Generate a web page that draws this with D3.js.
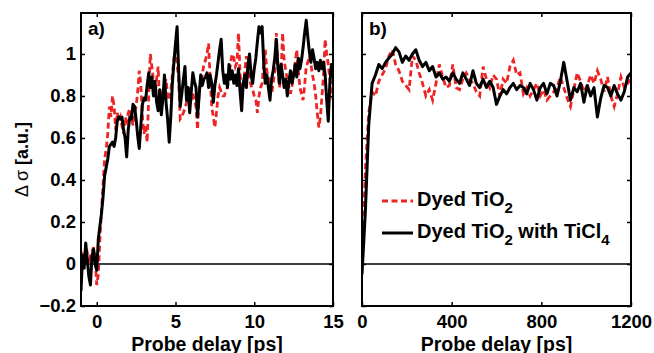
<!DOCTYPE html>
<html>
<head>
<meta charset="utf-8">
<script src="https://cdn.jsdelivr.net/npm/d3@7"></script>
<style>
  body { margin: 0; background: #fff; }
  svg { display: block; }
  text { font-family: "Liberation Sans", Arial, Helvetica, sans-serif; font-weight: bold; fill: #000; }
</style>
</head>
<body>
<svg id="chart" width="654" height="353"></svg>
<script>
// panel a: probe delay -1 .. 15 ps, sampled every 0.1 ps
const stepA = 0.1;
const startA = -1;
const dyedA = [
  0.02, 0.04, 0.0, 0.03, 0.05, 0.0, 0.04, 0.06, 0.08, 0.02,
  -0.1, -0.05, 0.12, 0.25, 0.38, 0.5, 0.55, 0.62, 0.75, 0.7,
  0.8, 0.75, 0.64, 0.72, 0.68, 0.7, 0.66, 0.62, 0.7, 0.68,
  0.72, 0.74, 0.7, 0.66, 0.72, 0.75, 0.82, 0.92, 0.85, 0.7,
  0.62, 0.66, 0.58, 0.8, 1.0, 0.94, 0.87, 0.8, 0.88, 0.94,
  0.73, 0.77, 0.82, 0.86, 0.88, 0.8, 0.78, 0.82, 0.9, 0.98,
  1.02, 0.95, 0.88, 0.69, 0.7, 0.72, 0.74, 0.77, 0.8, 0.84,
  0.78, 0.81, 0.78, 0.75, 0.64, 0.82, 0.86, 0.9, 0.95, 0.97,
  1.0, 1.05, 0.88, 0.75, 0.7, 0.65, 0.72, 0.8, 0.84, 0.82,
  0.8, 0.8, 0.83, 0.84, 0.9, 0.96, 1.0, 0.98, 0.94, 0.96,
  1.1, 0.9, 0.85, 0.83, 0.92, 0.99, 0.92, 0.88, 0.85, 0.83,
  0.8, 0.78, 0.72, 0.8, 0.84, 0.86, 0.96, 1.02, 0.92, 0.89,
  0.84, 0.81, 0.86, 0.92, 1.1, 0.95, 0.84, 0.9, 1.1, 0.97,
  0.92, 0.88, 0.84, 0.81, 0.85, 0.91, 0.96, 1.02, 0.92, 0.84,
  0.81, 0.78, 0.85, 0.94, 0.96, 0.99, 0.95, 0.9, 0.86, 0.8,
  0.72, 0.65, 0.7, 0.8, 0.9, 1.07, 1.0, 0.95, 0.88, 0.84,
  0.78
];
const ticl4A = [
  -0.13, 0.04, -0.02, 0.1, 0.02, -0.06, -0.1, 0.04, 0.07, 0.0,
  -0.03, 0.12, 0.18, 0.24, 0.32, 0.42, 0.46, 0.5, 0.56, 0.57,
  0.58, 0.56, 0.6, 0.68, 0.7, 0.69, 0.7, 0.64, 0.6, 0.51,
  0.64, 0.7, 0.69, 0.76, 0.75, 0.69, 0.61, 0.55, 0.66, 0.76,
  0.79, 0.78, 0.85, 0.91, 0.84, 0.89, 0.8, 0.87, 0.77, 0.73,
  0.83, 0.71, 0.79, 0.9, 0.77, 0.69, 0.58, 0.7, 0.86, 0.96,
  1.05, 1.13, 0.92, 0.75, 0.81, 0.88, 0.94, 0.78, 0.84, 0.72,
  0.82, 0.91, 0.87, 0.84, 0.7, 0.8, 0.9, 0.85, 0.88, 0.89,
  0.91, 0.84, 0.9, 0.86, 0.77, 0.85, 0.9, 0.96, 1.02, 1.07,
  0.92, 0.86, 0.9, 0.84, 0.95, 0.88, 0.92, 0.86, 0.9, 0.85,
  0.93, 0.82, 0.73, 0.86, 0.9, 0.84, 0.95, 1.0, 0.9, 0.86,
  0.93, 0.98, 1.06, 1.13, 1.1, 1.13, 0.96, 0.86, 0.9, 0.84,
  0.78, 0.88, 0.92, 0.98, 1.07, 0.94, 0.86, 0.95, 0.9, 0.84,
  0.88, 0.8, 0.87, 0.92, 0.86, 0.9, 0.95, 0.89, 0.98, 0.93,
  0.97, 1.03, 1.1, 1.16, 1.08, 1.01, 0.96, 1.02, 0.98, 0.93,
  0.96, 0.92, 0.97, 0.93, 0.96, 0.9, 0.78, 0.68, 0.86, 0.95,
  0.92
];

// panel b: probe delay 0 .. 1200 ps, sampled every 15 ps
const stepB = 15;
const startB = 0;
const dyedB = [
  0.0, 0.45, 0.72, 0.82, 0.8, 0.87, 0.9, 0.93, 0.99, 1.02,
  0.95, 0.92, 0.87, 0.85, 0.83, 0.99, 0.97, 0.91, 0.86, 0.8,
  0.83, 0.78, 0.86, 0.95, 0.89, 0.84, 0.85, 0.95, 0.84, 0.83,
  0.88, 0.91, 0.88, 0.86, 0.82, 0.8, 0.94, 0.88, 0.84, 0.9,
  0.88, 0.8, 0.88, 0.86, 0.94, 0.97, 0.9, 0.91, 0.81, 0.84,
  0.8, 0.83, 0.86, 0.8, 0.83, 0.78, 0.8, 0.82, 0.84, 0.89,
  0.84, 0.79, 0.75, 0.83, 0.91, 0.87, 0.82, 0.85, 0.9, 0.86,
  0.92, 0.88, 0.82, 0.89, 0.8, 0.75, 0.81, 0.89, 0.84, 0.86,
  0.88
];
const ticl4B = [
  -0.05, 0.25, 0.66, 0.86, 0.9, 0.95, 0.93, 0.96, 0.98, 1.0,
  1.03, 1.01, 0.96, 0.99, 0.97, 1.0, 1.02, 0.97, 0.94, 0.96,
  0.92, 0.94, 0.89, 0.91, 0.88, 0.89, 0.87, 0.91, 0.88, 0.86,
  0.91, 0.88, 0.85, 0.92, 0.86, 0.84, 0.88, 0.84, 0.87, 0.84,
  0.76, 0.8, 0.83, 0.81, 0.84, 0.86, 0.83, 0.85, 0.84, 0.81,
  0.86, 0.83, 0.78, 0.84, 0.86, 0.81, 0.86, 0.85, 0.8, 0.87,
  0.96, 0.87, 0.78, 0.84, 0.82, 0.86, 0.77, 0.85, 0.8, 0.84,
  0.7, 0.79, 0.85, 0.84, 0.8, 0.85, 0.81, 0.78, 0.82, 0.89,
  0.91
];

const yTicks = [-0.2, 0, 0.2, 0.4, 0.6, 0.8, 1];
const xTicksA = [0, 5, 10, 15];
const xTicksB = [0, 400, 800, 1200];
const seriesNames = ["Dyed TiO", "Dyed TiO"];

const RED = "#ee2424";
const TICK_FS = 18.5;

const svg = d3.select("#chart");

const plotTop = 13, plotBottom = 306;
const yScale = d3.scaleLinear().domain([-0.2, 1.195]).range([plotBottom, plotTop]);

function drawPanel(opts) {
  const x = d3.scaleLinear().domain(opts.xDomain).range([opts.left, opts.right]);
  const g = svg.append("g");

  const clipId = "clip-" + opts.name;
  svg.append("clipPath").attr("id", clipId)
    .append("rect")
    .attr("x", opts.left).attr("y", plotTop)
    .attr("width", opts.right - opts.left).attr("height", plotBottom - plotTop);

  const plot = g.append("g").attr("clip-path", `url(#${clipId})`);

  // zero line
  plot.append("line")
    .attr("x1", opts.left).attr("x2", opts.right)
    .attr("y1", yScale(0)).attr("y2", yScale(0))
    .attr("stroke", "#000").attr("stroke-width", 1.6);

  const line = d3.line()
    .x((d, i) => x(opts.start + i * opts.step))
    .y(d => yScale(d));

  plot.append("path")
    .datum(opts.red)
    .attr("d", line)
    .attr("fill", "none")
    .attr("stroke", RED)
    .attr("stroke-width", 2.8)
    .attr("stroke-dasharray", "6,3.5");

  plot.append("path")
    .datum(opts.black)
    .attr("d", line)
    .attr("fill", "none")
    .attr("stroke", "#000")
    .attr("stroke-width", 3)
    .attr("stroke-linejoin", "round");

  // axes with inward ticks, mirrored on all four sides
  const axB = g.append("g").attr("transform", `translate(0,${plotBottom})`)
    .call(d3.axisBottom(x).tickValues(opts.xTicks).tickSizeInner(-4).tickSizeOuter(0)
      .tickPadding(9).tickFormat(d3.format("d")));
  const axT = g.append("g").attr("transform", `translate(0,${plotTop})`)
    .call(d3.axisTop(x).tickValues(opts.xTicks).tickSizeInner(-4).tickSizeOuter(0).tickFormat(""));
  const axL = g.append("g").attr("transform", `translate(${opts.left},0)`)
    .call(d3.axisLeft(yScale).tickValues(yTicks).tickSizeInner(-4).tickSizeOuter(0).tickPadding(5));
  const axR = g.append("g").attr("transform", `translate(${opts.right},0)`)
    .call(d3.axisRight(yScale).tickValues(yTicks).tickSizeInner(-4).tickSizeOuter(0).tickFormat(""));

  [axB, axT, axL, axR].forEach(a => {
    a.select(".domain").remove();
    a.selectAll(".tick line").attr("stroke", "#000").attr("stroke-width", 1.5);
    a.selectAll(".tick text")
      .attr("font-size", TICK_FS)
      .attr("font-weight", "bold").attr("fill", "#000");
  });
  axL.selectAll(".tick text").text(d => opts.yLabels ? (d < 0 ? "\u2212" + Math.abs(d) : d) : "");

  // frame
  g.append("rect")
    .attr("x", opts.left).attr("y", plotTop)
    .attr("width", opts.right - opts.left).attr("height", plotBottom - plotTop)
    .attr("fill", "none").attr("stroke", "#000").attr("stroke-width", 2);

  // panel letter
  g.append("text")
    .attr("x", opts.left + 7).attr("y", plotTop + 22)
    .attr("font-size", 19)
    .text(opts.name + ")");

  // x label
  g.append("text")
    .attr("x", (opts.left + opts.right) / 2).attr("y", 350.5)
    .attr("text-anchor", "middle")
    .attr("font-size", 19.5)
    .text("Probe delay [ps]");

  return x;
}

drawPanel({
  name: "a", left: 81, right: 333, xDomain: [-1, 15],
  start: startA, step: stepA, red: dyedA, black: ticl4A,
  xTicks: xTicksA, yLabels: true
});

drawPanel({
  name: "b", left: 362, right: 631, xDomain: [0, 1200],
  start: startB, step: stepB, red: dyedB, black: ticl4B,
  xTicks: xTicksB, yLabels: false
});

// y label
const yl = svg.append("text")
  .attr("transform", `translate(28,${(plotTop + plotBottom) / 2}) rotate(-90)`)
  .attr("text-anchor", "middle")
  .attr("font-size", 18);
yl.append("tspan").attr("font-weight", "normal").text("\u0394 \u03c3 ");
yl.append("tspan").text("[a.u.]");

// legend inside panel b
const legend = svg.append("g").attr("transform", "translate(382,201)");
const legendRows = [
  { color: RED, dash: "6,3.5", main: seriesNames[0], sub: "2", tail: "", sub2: "" },
  { color: "#000", dash: null, main: seriesNames[1], sub: "2", tail: " with TiCl", sub2: "4" }
];
legendRows.forEach((r, i) => {
  const row = legend.append("g").attr("transform", `translate(0,${i * 32})`);
  row.append("line")
    .attr("x1", 0).attr("x2", 31).attr("y1", 0).attr("y2", 0)
    .attr("stroke", r.color).attr("stroke-width", 3)
    .attr("stroke-dasharray", r.dash);
  const t = row.append("text").attr("x", 35).attr("y", 5).attr("font-size", 20);
  t.append("tspan").text(r.main);
  t.append("tspan").attr("dy", 7).attr("font-size", 15).text(r.sub);
  if (r.tail) {
    t.append("tspan").attr("dy", -7).text(r.tail);
    t.append("tspan").attr("dy", 7).attr("font-size", 15).text(r.sub2);
  }
});
</script>
</body>
</html>
